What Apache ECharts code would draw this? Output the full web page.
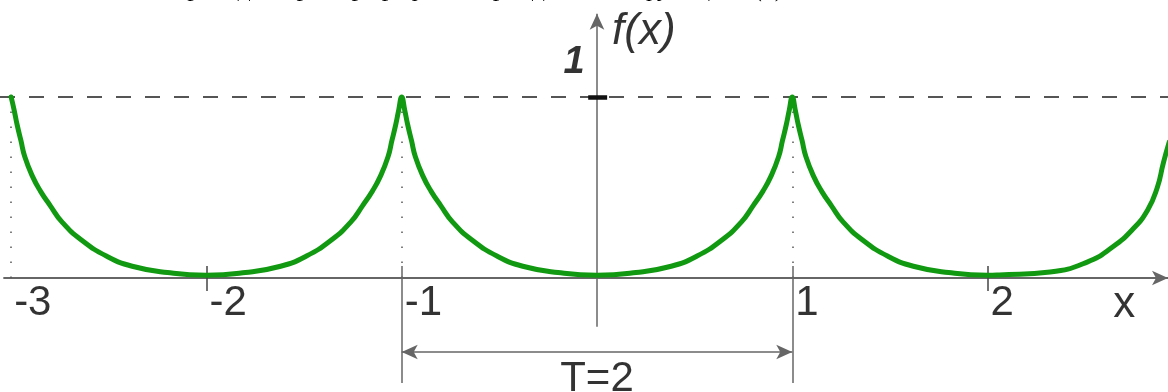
<!DOCTYPE html>
<html>
<head>
<meta charset="utf-8">
<script src="https://cdn.jsdelivr.net/npm/echarts@6/dist/echarts.min.js"></script>
<style>
html, body { margin: 0; padding: 0; background: #fff; }
#chart { width: 1168px; height: 392px; }
</style>
</head>
<body>
<div id="chart"></div>
<script>
// точки кривой (три дуги, период T=2)
var curveX = [
  -3, -2.985, -2.97, -2.95, -2.93, -2.89, -2.85, -2.80, -2.74, -2.64, -2.51, -2.38, -2.20,
  -2.0, -1.80, -1.62, -1.49, -1.36, -1.26, -1.20, -1.15, -1.11, -1.07, -1.05, -1.03, -1.015,
  -1.0, -0.985, -0.97, -0.95, -0.93, -0.89, -0.85, -0.80, -0.74, -0.64, -0.51, -0.38, -0.20,
  0, 0.20, 0.38, 0.51, 0.64, 0.74, 0.80, 0.85, 0.89, 0.93, 0.95, 0.97, 0.985,
  1.0, 1.015, 1.03, 1.05, 1.07, 1.11, 1.15, 1.20, 1.26, 1.36, 1.49, 1.62, 1.80,
  2.0, 2.06, 2.32, 2.51, 2.64, 2.74, 2.82, 2.87, 2.90, 2.93
];
var curveY = [
  1.0, 0.93, 0.85, 0.76, 0.67, 0.56, 0.48, 0.40, 0.31, 0.21, 0.12, 0.065, 0.03,
  0.015, 0.03, 0.065, 0.12, 0.21, 0.31, 0.40, 0.48, 0.56, 0.67, 0.76, 0.85, 0.93,
  1.0, 0.93, 0.85, 0.76, 0.67, 0.56, 0.48, 0.40, 0.31, 0.21, 0.12, 0.065, 0.03,
  0.015, 0.03, 0.065, 0.12, 0.21, 0.31, 0.40, 0.48, 0.56, 0.67, 0.76, 0.85, 0.93,
  1.0, 0.93, 0.85, 0.76, 0.67, 0.56, 0.48, 0.40, 0.31, 0.21, 0.12, 0.065, 0.03,
  0.015, 0.017, 0.033, 0.088, 0.171, 0.265, 0.376, 0.503, 0.635, 0.75
];
var xTickLabels = [-3, -2, -1, 1, 2];
var smallTicks = [-2, 2];
var periodEdges = [-1, 1];
var cuspLines = [-3, -1, 1];
var yTickValue = 1;
var periodText = 'T=2';
var topText = 'Ниже приведён пример графика периодической функции f(x)';

var X_MIN = -3.057, X_MAX = 2.924;
var Y_MIN = -0.630, Y_MAX = 1.536;
var SANS = '"Liberation Sans", Arial, sans-serif';

var curveData = curveX.map(function (x, i) { return [x, curveY[i]]; });

function seg(a, b, style, endSymbols) {
  endSymbols = endSymbols || ['none', 'none'];
  return [
    { coord: a, symbol: endSymbols[0], lineStyle: style },
    { coord: b, symbol: endSymbols[1] }
  ];
}

function txt(size, extra) {
  var l = { color: '#000', fontFamily: SANS, fontSize: size };
  for (var k in extra) l[k] = extra[k];
  return l;
}

var thin = { color: '#666', width: 1.5, type: 'solid' };
var lines = [];
// ось x и ось y со стрелками
lines.push(seg([-3.04, 0], [X_MAX, 0], { color: '#666', width: 2, type: 'solid' }, ['none', 'arrow']));
lines.push(seg([0, -0.27], [0, 1.46], thin, ['none', 'arrow']));
// пунктир y = 1
lines.push(seg([X_MIN, yTickValue], [X_MAX, yTickValue], { color: '#555', width: 2, type: [15, 14] }));
// точечные вертикали в точках излома
cuspLines.forEach(function (x) {
  lines.push(seg([x, 0], [x, yTickValue], { color: '#555', width: 1.5, type: [1.5, 13.5] }));
});
// короткие риски
smallTicks.forEach(function (x) {
  lines.push(seg([x, 0.066], [x, -0.072], { color: '#444', width: 1.5, type: 'solid' }));
});
// выносные линии периода
periodEdges.forEach(function (x) {
  lines.push(seg([x, 0.066], [x, -0.58], thin));
});
// размерная стрелка T
lines.push(seg([periodEdges[0], -0.409], [periodEdges[1], -0.409], thin, ['arrow', 'arrow']));
// жирная риска y = 1
lines.push(seg([-0.045, yTickValue], [0.052, yTickValue], { color: '#111', width: 4.5, type: 'solid' }));

// подписи делений оси x — справа от риски, под осью
var tickLabelData = xTickLabels.map(function (v) {
  return { name: String(v), value: [v, -0.138], label: txt(42, { position: 'right', distance: 3 }) };
});

var chart = echarts.init(document.getElementById('chart'));
chart.setOption({
  animation: false,
  backgroundColor: '#fff',
  grid: { left: 0, right: 0, top: 0, bottom: 0, outerBoundsMode: 'none', containLabel: false },
  graphic: [{
    type: 'text',
    left: 105,
    top: -24,
    silent: true,
    style: { text: topText, font: '26px "Liberation Serif", serif', fill: '#000' }
  }],
  xAxis: {
    type: 'value',
    min: X_MIN,
    max: X_MAX,
    axisLine: { show: false },
    axisTick: { show: false },
    splitLine: { show: false },
    axisLabel: { show: false }
  },
  yAxis: {
    type: 'value',
    min: Y_MIN,
    max: Y_MAX,
    axisLine: { show: false },
    axisTick: { show: false },
    splitLine: { show: false },
    axisLabel: { show: false }
  },
  series: [
    {
      name: 'f(x)',
      type: 'line',
      data: curveData,
      showSymbol: false,
      smooth: 0.5,
      lineStyle: { color: '#119911', width: 5, cap: 'round', join: 'round' },
      z: 5,
      markLine: {
        silent: true,
        symbolSize: [11, 16],
        label: { show: false },
        emphasis: { disabled: true },
        itemStyle: { color: '#111' },
        data: lines
      }
    },
    {
      name: 'labels',
      type: 'scatter',
      symbolSize: 0,
      silent: true,
      label: { show: true, formatter: '{b}', position: 'inside' },
      data: tickLabelData.concat([
        { name: String(yTickValue), value: [-0.118, 1.193], label: txt(38, { fontStyle: 'italic', fontWeight: 'bold' }) },
        { name: 'f(x)', value: [0.24, 1.36], label: txt(44, { fontStyle: 'italic' }) },
        { name: 'x', value: [2.70, -0.149], label: txt(44) },
        { name: periodText, value: [0, -0.56], label: txt(42) }
      ])
    }
  ]
});
</script>
</body>
</html>
